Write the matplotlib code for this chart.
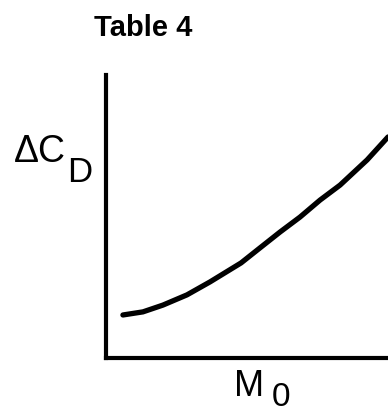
import matplotlib
matplotlib.use('Agg')
import matplotlib.pyplot as plt

# curve (axes fraction units, no scale given)
mach = [0.060, 0.131, 0.202, 0.287, 0.369, 0.479, 0.546, 0.617, 0.688, 0.759, 0.830, 0.926, 1.0]
delta_cd = [0.152, 0.163, 0.187, 0.223, 0.269, 0.336, 0.389, 0.445, 0.498, 0.558, 0.611, 0.700, 0.781]

W, H = 388, 416
fig = plt.figure(figsize=(W / 100, H / 100), dpi=100)
ax = fig.add_axes([106 / W, 1 - 358 / H, 282 / W, 283 / H])
ax.plot(mach, delta_cd, color='black', lw=3.8, solid_capstyle='round',
        solid_joinstyle='round', clip_on=False)
ax.set_xlim(0, 1)
ax.set_ylim(0, 1)
ax.spines['top'].set_visible(False)
ax.spines['right'].set_visible(False)
ax.spines['left'].set_linewidth(3)
ax.spines['bottom'].set_linewidth(3)
ax.set_xticks([])
ax.set_yticks([])

lab = ['Liberation Sans', 'DejaVu Sans']
fig.text(143 / W, 1 - 28 / H, 'Table 4', ha='center', va='center', fontsize=21,
         fontweight='bold', family=['Liberation Sans Narrow', 'Liberation Sans', 'DejaVu Sans'])
fig.text(40 / W, 1 - 152 / H, 'ΔC', ha='center', va='center', fontsize=27, family=lab)
fig.text(80 / W, 1 - 173 / H, 'D', ha='center', va='center', fontsize=25, family=lab)
fig.text(249 / W, 1 - 386 / H, 'M', ha='center', va='center', fontsize=26, family=lab)
fig.text(281 / W, 1 - 397 / H, '0', ha='center', va='center', fontsize=24, family=lab)

fig.savefig('out.png', dpi=100)
